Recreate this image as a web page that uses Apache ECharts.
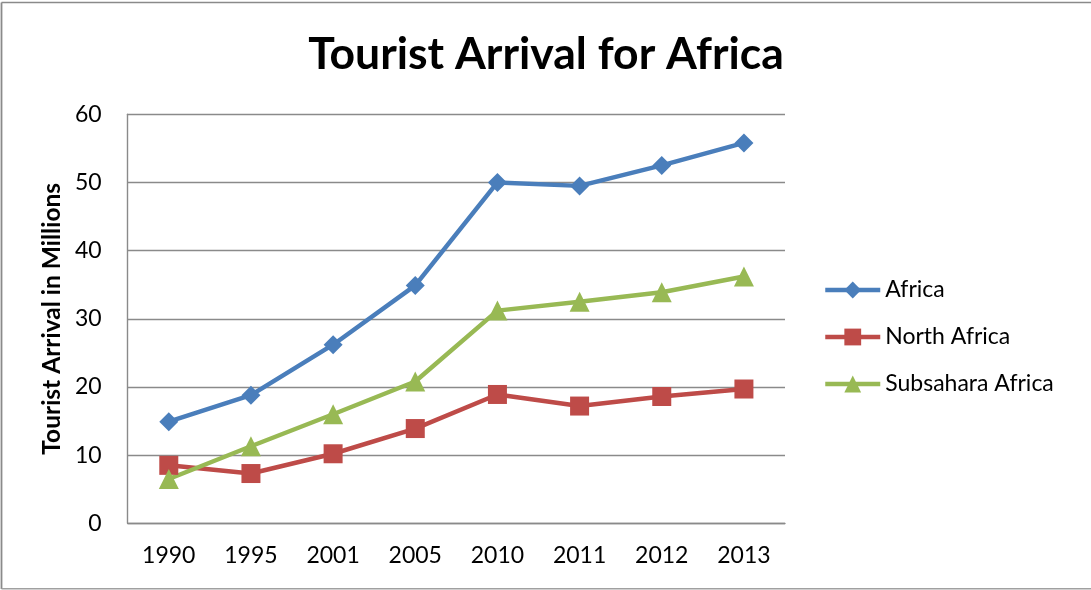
<!DOCTYPE html>
<html>
<head>
<meta charset="utf-8">
<script src="https://cdn.jsdelivr.net/npm/echarts@6/dist/echarts.min.js"></script>
<style>
  html, body { margin: 0; padding: 0; background: #ffffff; }
  #chart { width: 1091px; height: 590px; }
</style>
</head>
<body>
<div id="chart"></div>
<script>
// Tourist arrivals (millions) by year
const years = ['1990', '1995', '2001', '2005', '2010', '2011', '2012', '2013'];
const africa = [14.9, 18.8, 26.2, 34.9, 50.0, 49.5, 52.5, 55.8];
const northAfrica = [8.5, 7.3, 10.2, 13.9, 18.9, 17.2, 18.6, 19.7];
const subsaharaAfrica = [6.5, 11.3, 16.0, 20.8, 31.2, 32.5, 33.9, 36.2];
const yTicks = [0, 10, 20, 30, 40, 50, 60];

const FONT = 'Lato';
const GRID_GRAY = '#8a8a8a';

const chart = echarts.init(document.getElementById('chart'), null, { renderer: 'canvas' });

function lineSeries(name, data, color, symbol, size) {
  return {
    name: name,
    type: 'line',
    data: data,
    symbol: symbol,
    symbolSize: size,
    showAllSymbol: true,
    lineStyle: { color: color, width: 4.5 },
    itemStyle: { color: color, borderWidth: 0 },
    emphasis: { disabled: true },
    z: 3
  };
}

chart.setOption({
  backgroundColor: '#ffffff',
  animation: false,
  textStyle: { fontFamily: FONT },
  title: {
    text: 'Tourist Arrival for Africa',
    left: 541,
    textAlign: 'center',
    top: 27,
    textStyle: { fontFamily: FONT, fontWeight: 'bold', fontSize: 44.5, color: '#000000' }
  },
  legend: {
    orient: 'vertical',
    left: 818,
    top: 273.5,
    itemWidth: 55,
    itemHeight: 21,
    itemGap: 24,
    lineStyle: { width: 4.5 },
    textStyle: { fontFamily: FONT, fontSize: 23, color: '#000000' },
    data: ['Africa', 'North Africa', 'Subsahara Africa']
  },
  grid: {
    left: 127.7,
    right: 306,
    top: 114.3,
    bottom: 66.7,
    containLabel: false
  },
  xAxis: {
    type: 'category',
    data: years,
    boundaryGap: true,
    axisLine: { show: true, lineStyle: { color: GRID_GRAY, width: 1.4 } },
    axisTick: { show: false },
    axisLabel: { fontFamily: FONT, fontSize: 23, color: '#000000', margin: 21 },
    splitLine: { show: false }
  },
  yAxis: {
    type: 'value',
    min: yTicks[0],
    max: yTicks[yTicks.length - 1],
    interval: yTicks[1] - yTicks[0],
    name: 'Tourist Arrival in Millions',
    nameLocation: 'middle',
    nameGap: 60,
    nameRotate: 90,
    nameTextStyle: { fontFamily: FONT, fontWeight: 'bold', fontSize: 24.5, color: '#000000' },
    axisLine: { show: true, lineStyle: { color: GRID_GRAY, width: 1.4 } },
    axisTick: { show: false },
    axisLabel: { fontFamily: FONT, fontSize: 23, color: '#000000', margin: 26 },
    splitLine: { show: true, lineStyle: { color: GRID_GRAY, width: 1.4 } }
  },
  graphic: [
    // outer frame: top, left and bottom edges
    { type: 'line', shape: { x1: 1.5, y1: 2.5, x2: 1091, y2: 2.5 }, style: { stroke: '#8a8a8a', lineWidth: 1.6 }, silent: true },
    { type: 'line', shape: { x1: 1.5, y1: 2.5, x2: 1.5, y2: 589 }, style: { stroke: '#8a8a8a', lineWidth: 1.8 }, silent: true },
    { type: 'line', shape: { x1: 1.5, y1: 588.7, x2: 1091, y2: 588.7 }, style: { stroke: '#a0a0a0', lineWidth: 1.4 }, silent: true }
  ],
  series: [
    lineSeries('Africa', africa, '#4A7EBB', 'diamond', 19),
    lineSeries('North Africa', northAfrica, '#BE4B48', 'rect', 19),
    lineSeries('Subsahara Africa', subsaharaAfrica, '#98B954', 'triangle', 20)
  ]
});
</script>
</body>
</html>
